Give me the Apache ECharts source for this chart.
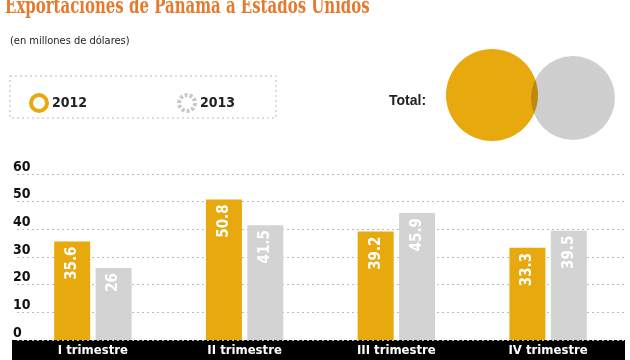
<!DOCTYPE html>
<html><head><meta charset="utf-8">
<script src="https://cdn.jsdelivr.net/npm/echarts@6/dist/echarts.min.js"></script>
<style>html,body{margin:0;padding:0;background:#fff}#c{width:630px;height:360px}</style>
</head><body><div id="c"></div>
<script>
var categories = ['I trimestre', 'II trimestre', 'III trimestre', 'IV trimestre'];
var seriesNames = ['2012', '2013'];
var values2012 = [35.6, 50.8, 39.2, 33.3];
var values2013 = [26, 41.5, 45.9, 39.5];
var yTicks = [0, 10, 20, 30, 40, 50, 60];

var ORANGE = '#e8a90f', GRAY = '#d3d3d3';
var NARROW = 'Liberation Sans Narrow, DejaVu Sans Condensed, sans-serif';
var chart = echarts.init(document.getElementById('c'));
var labelCfg = {
  show: true, position: 'insideTop', rotate: 90, align: 'right', verticalAlign: 'middle',
  distance: 5, color: '#fff', fontWeight: 'bold', fontSize: 15, fontFamily: NARROW,
  formatter: function (p) { return String(p.value); }
};
chart.setOption({
  animation: false,
  title: [{
    text: '(en millones de dólares)', left: 5, top: 31,
    textStyle: { color: '#222', fontSize: 11, fontWeight: 'normal', fontFamily: NARROW }
  }, {
    text: 'Total:', left: 384, top: 89,
    textStyle: { color: '#222', fontSize: 14, fontWeight: 'bold', fontFamily: 'Liberation Sans, Arial, sans-serif' }
  }],
  legend: {
    data: [
      { name: seriesNames[0], itemStyle: { color: '#fff', borderColor: ORANGE, borderWidth: 4 } },
      { name: seriesNames[1], itemStyle: { color: '#fff', borderColor: '#c8c8c8', borderWidth: 4, borderType: [3, 2] } }
    ],
    left: 24, top: 88, itemGap: 90, itemWidth: 16, itemHeight: 16, icon: 'circle',
    textStyle: { color: '#222', fontSize: 14, fontWeight: 'bold', fontFamily: NARROW }
  },
  grid: { left: 17, right: 6, top: 174, bottom: 20 },
  xAxis: {
    type: 'category', data: categories, z: 10,
    axisLine: { show: false }, axisTick: { show: false },
    axisLabel: { color: '#fff', fontSize: 13, fontWeight: 'bold', margin: 4, fontFamily: NARROW }
  },
  yAxis: {
    type: 'value', min: yTicks[0], max: yTicks[yTicks.length - 1], interval: 10,
    axisLine: { show: false }, axisTick: { show: false },
    axisLabel: { inside: true, margin: -4, verticalAlign: 'bottom', color: '#111', fontSize: 14, fontWeight: 'bold', fontFamily: NARROW },
    splitLine: { lineStyle: { type: [2, 3], color: '#bbb', width: 1 } }
  },
  series: [{
    name: seriesNames[0], type: 'bar', data: values2012, barWidth: 36, barGap: '15%',
    itemStyle: { color: ORANGE }, label: labelCfg
  }, {
    name: seriesNames[1], type: 'bar', data: values2013, barWidth: 36,
    itemStyle: { color: GRAY }, label: labelCfg
  }],
  graphic: [
    { type: 'text', x: 5, y: -4, scaleX: 0.65, silent: true,
      style: { text: 'Exportaciones de Panamá a Estados Unidos', fill: '#e57a2e',
        font: '900 23px "DejaVu Serif", serif' } },
    { type: 'rect', shape: { x: 10, y: 76, width: 266, height: 42 }, style: { fill: 'none', stroke: '#bbb', lineWidth: 1, lineDash: [2, 3] }, silent: true },
    { type: 'rect', shape: { x: 12, y: 340, width: 613, height: 20 }, style: { fill: '#000' }, z: -1, silent: true },
    { type: 'circle', shape: { cx: 492, cy: 95, r: 46 }, style: { fill: ORANGE }, silent: true },
    { type: 'circle', shape: { cx: 573, cy: 98, r: 42 }, style: { fill: '#cfcfcf', blend: 'multiply' }, silent: true }
  ]
});
</script></body></html>
